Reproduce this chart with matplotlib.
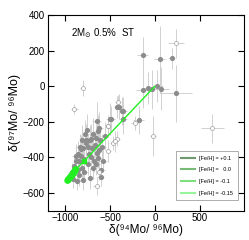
import matplotlib
matplotlib.use('Agg')
import matplotlib.pyplot as plt
import numpy as np

plt.rcParams['font.family'] = ['Liberation Sans', 'DejaVu Sans']

# filled grains: x, y, xerr, yerr
fill_x = [-136, 55, 187, 237, -129, -74, -37, 29, 66,
          -648, -502, -403, -367, -180, -356, -356, -422, -491,
          -930, -900, -880, -870, -860, -850, -840, -830, -820, -810, -807,
          -800, -790, -780, -770, -758, -750, -740, -730, -722, -711, -700,
          -690, -680, -670, -660, -648, -640, -631, -623, -610, -600, -590,
          -580, -560,
          -910, -885, -865, -845, -825, -795, -775, -745, -715, -695, -655,
          -625, -605]
fill_y = [175, 151, 157, -39, -21, -9, -18, 4, -14,
          -196, -182, -116, -139, -191, -139, -187, -116, -182,
          -480, -450, -420, -535, -380, -500, -340, -390, -460, -300, -526,
          -350, -480, -270, -320, -246, -440, -380, -300, -517, -294, -350,
          -460, -420, -330, -290, -374, -250, -401, -235, -300, -470, -340,
          -420, -280,
          -520, -395, -470, -420, -355, -410, -305, -340, -400, -270, -440,
          -360, -510]
fill_xe = [60, 60, 40, 180, 80, 70, 90, 60, 90,
           50, 40, 30, 30, 60, 40, 40, 30, 40,
           40, 40, 40, 40, 40, 40, 40, 40, 40, 40, 40,
           40, 40, 40, 40, 40, 40, 40, 40, 40, 40, 40,
           40, 40, 40, 40, 40, 40, 40, 40, 40, 40, 40,
           40, 40,
           40, 40, 40, 40, 40, 40, 40, 40, 40, 40, 40,
           40, 40]
fill_ye = [100, 190, 60, 160, 100, 90, 110, 90, 120,
           110, 90, 70, 80, 80, 80, 80, 60, 70,
           50, 60, 60, 50, 70, 60, 70, 60, 60, 80, 60,
           70, 60, 80, 70, 90, 60, 70, 80, 60, 80, 70,
           60, 60, 70, 80, 80, 90, 60, 90, 70, 60, 70,
           60, 80,
           50, 70, 60, 70, 80, 60, 90, 70, 60, 90, 60,
           80, 50]

# open grains
open_x = [-807, -901, 237, 644, -19, -227, -422, -472, -648,
          -521, -447, -521, -411, -524, -620]
open_y = [-12, -128, 241, -237, -280, -205, -294, -320, -561,
          -223, -310, -365, -89, -226, -480]
open_xe = [30, 40, 90, 125, 30, 40, 30, 30, 40,
           30, 30, 30, 30, 30, 30]
open_ye = [45, 30, 80, 80, 110, 40, 40, 40, 50,
           60, 60, 60, 40, 40, 50]

# model lines
model_x = [-975, -945, -910, -885, -790, 0]
model_y = [-530, -512, -490, -468, -420, 0]
feh_labels = ['[Fe/H] = +0.1', '[Fe/H] =   0.0', '[Fe/H] = -0.1', '[Fe/H] = -0.15']
feh_colors = ['#6e9a6e', '#77bb77', '#7de07d', '#99f599']

fig = plt.figure(figsize=(2.49, 2.4), dpi=100)
ax = fig.add_axes([0.191, 0.122, 0.79, 0.815])

ax.errorbar(fill_x, fill_y, xerr=fill_xe, yerr=fill_ye, fmt='o', ms=2.7,
            mfc='#8c8c8c', mec='#8c8c8c', ecolor='#cacaca', elinewidth=0.6,
            capsize=0, zorder=2)
ax.errorbar(open_x, open_y, xerr=open_xe, yerr=open_ye, fmt='o', ms=2.9,
            mfc='white', mec='#a0a0a0', mew=0.5, ecolor='#cacaca',
            elinewidth=0.6, capsize=0, zorder=2)

# thick start of the model tracks
ax.plot(model_x[:4], model_y[:4], color='#22ee22', lw=5,
        solid_capstyle='round', zorder=3)
ax.plot([model_x[4]], [model_y[4]], 's', color='#22ee22', ms=3.5, zorder=3)
for lab, c in zip(feh_labels, feh_colors):
    ax.plot([], [], color=c, lw=1.5, label=lab)
ax.plot(model_x, model_y, color='#22ee22', lw=1.0, zorder=3)

ax.set_xlim(-1200, 1000)
ax.set_ylim(-700, 400)
ax.set_xticks([-1000, -500, 0, 500])
ax.set_xticklabels(['\u22121000', '\u2212500', '0', '500'])
ax.set_yticks([-600, -400, -200, 0, 200, 400])
ax.set_yticklabels(['\u2212600', '\u2212400', '\u2212200', '0', '200', '400'])
ax.tick_params(direction='in', top=True, right=True, length=4,
               width=0.8, labelsize=7, pad=2)

ax.set_xlabel('\u03b4(\u2079\u2074Mo/ \u2079\u2076Mo)', fontsize=8.5)
ax.xaxis.set_label_coords(0.5, -0.066)
ax.xaxis.label.set_va('top')
ax.set_ylabel('\u03b4(\u2079\u2077Mo/ \u2079\u2076Mo)', fontsize=9, labelpad=1)
ax.text(0.12, 0.91, r'2M$_{\odot}$ 0.5%  ST', transform=ax.transAxes,
        fontsize=7, va='center')

leg = ax.legend(loc='lower right', fontsize=4, frameon=True, fancybox=False,
                edgecolor='#888888', handlelength=2.5, borderpad=0.8,
                labelspacing=1.2, bbox_to_anchor=(0.98, 0.04))
leg.get_frame().set_linewidth(0.6)

fig.savefig('out.png', dpi=100)
